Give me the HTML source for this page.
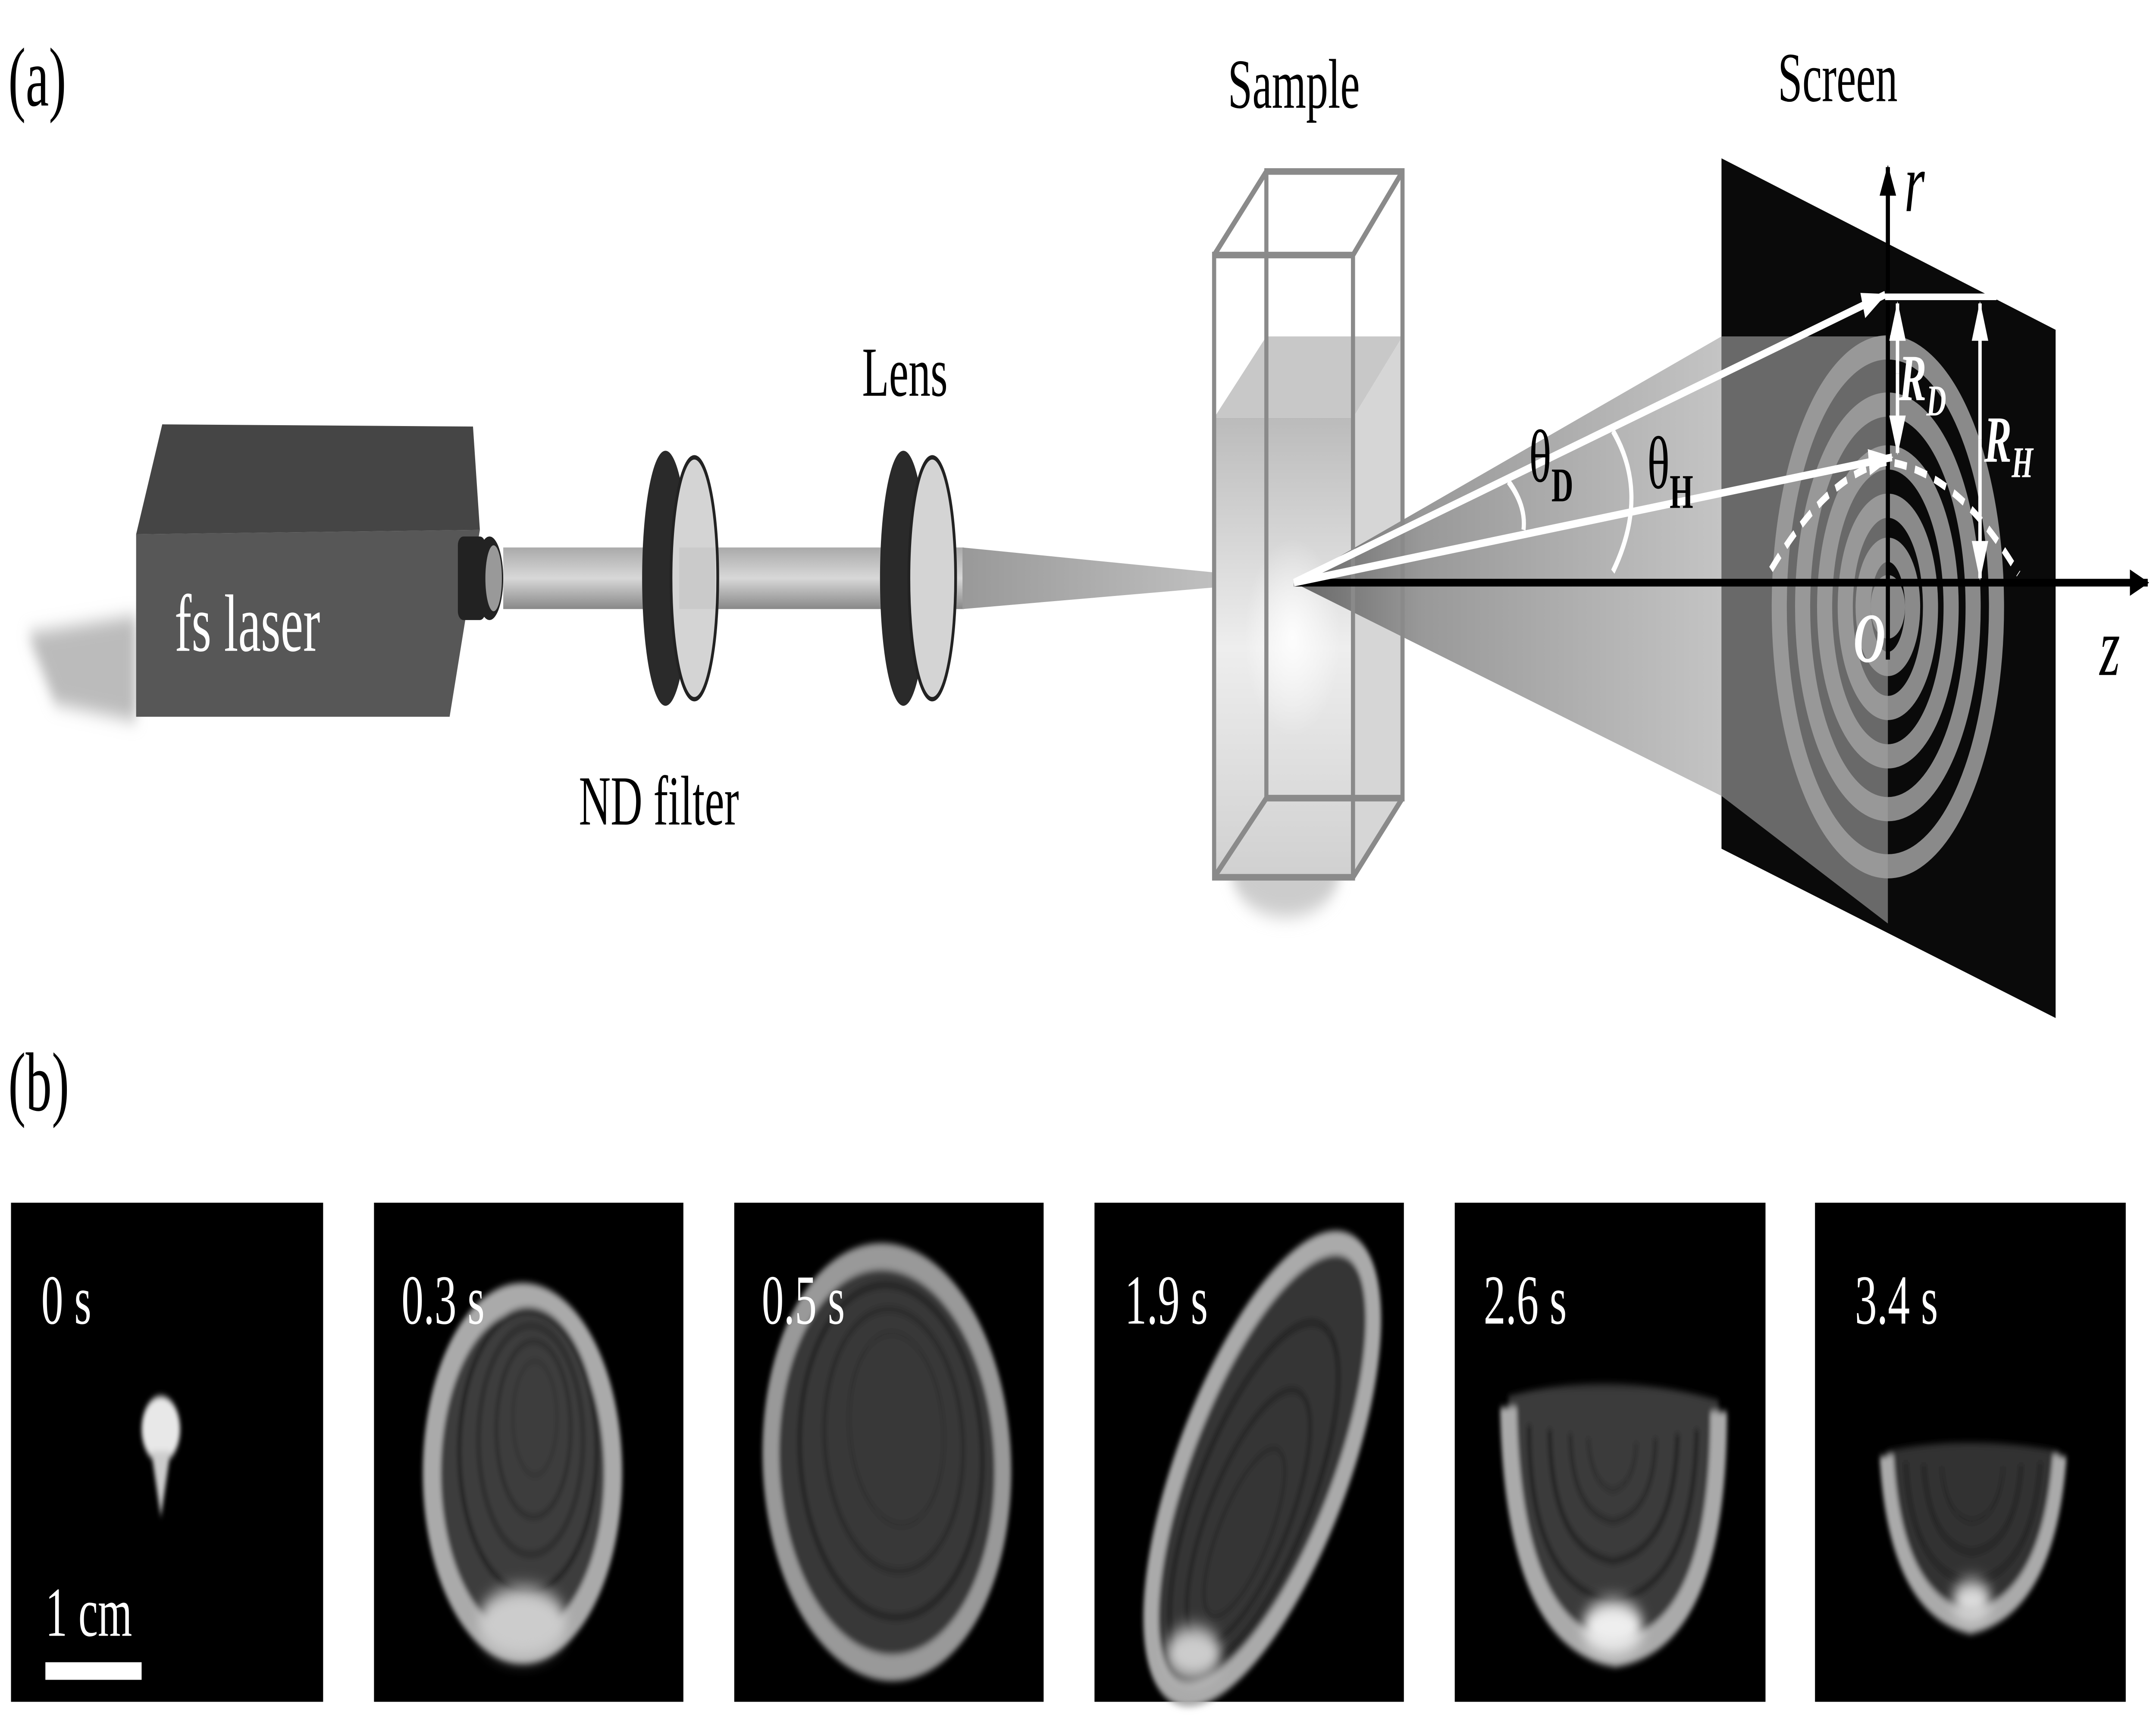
<!DOCTYPE html>
<html><head><meta charset="utf-8"><style>
html,body{margin:0;padding:0;background:#fff;width:100vw;height:100vh;overflow:hidden;}
svg{display:block;position:absolute;left:0;top:0;width:100vw;height:100vh;}
text{font-family:"Liberation Serif",serif;}
</style></head><body>
<svg viewBox="0 0 1568 780" preserveAspectRatio="none" xmlns="http://www.w3.org/2000/svg">
<defs>
<linearGradient id="beam" x1="0" x2="0" y1="0" y2="1">
<stop offset="0" stop-color="#aaa"/><stop offset="0.5" stop-color="#d8d8d8"/><stop offset="1" stop-color="#888"/></linearGradient>
<linearGradient id="beam2" x1="0" x2="1"><stop offset="0" stop-color="#999"/><stop offset="1" stop-color="#ccc"/></linearGradient>
<linearGradient id="cone" x1="0" x2="1"><stop offset="0" stop-color="#666"/><stop offset="0.3" stop-color="#999"/><stop offset="1" stop-color="#c4c4c4"/></linearGradient>
<linearGradient id="liq" x1="0" x2="0" y1="0" y2="1"><stop offset="0" stop-color="#bbb"/><stop offset="0.5" stop-color="#eee"/><stop offset="1" stop-color="#d0d0d0"/></linearGradient>
<linearGradient id="fadeTop" x1="0" x2="0" y1="0" y2="1"><stop offset="0" stop-color="#000"/><stop offset="0.25" stop-color="#000" stop-opacity="0"/></linearGradient>
<radialGradient id="glow"><stop offset="0" stop-color="#fff"/><stop offset="1" stop-color="#fff" stop-opacity="0"/></radialGradient>
<filter id="bl" x="-30%" y="-30%" width="160%" height="160%"><feGaussianBlur stdDeviation="4"/></filter>
<filter id="bl2" x="-20%" y="-20%" width="140%" height="140%"><feGaussianBlur stdDeviation="1.5"/></filter>
<filter id="bl3" x="-50%" y="-50%" width="200%" height="200%"><feGaussianBlur stdDeviation="4"/></filter>
<marker id="ah" markerWidth="14" markerHeight="12" refX="13" refY="6" orient="auto" markerUnits="userSpaceOnUse"><path d="M0,0 L14,6 L0,12 z" fill="#000"/></marker>
<marker id="wh" markerWidth="18" markerHeight="12" refX="17" refY="6" orient="auto" markerUnits="userSpaceOnUse"><path d="M0,0 L18,6 L0,12 z" fill="#fff"/></marker>
<clipPath id="scr"><polygon points="1252,72 1495,150 1495,463 1252,386"/></clipPath>
</defs>
<rect width="1568" height="780" fill="#fff"/>
<text x="6" y="48" font-size="38">(a)</text>
<text x="6" y="505" font-size="38">(b)</text>

<polygon points="20,288 99,280 99,328 40,320" fill="#bbb" filter="url(#bl)"/>
<rect x="366" y="249" width="335" height="28" fill="url(#beam)"/>
<polygon points="700,249 942,264 700,277" fill="url(#beam2)"/>
<polygon points="118,193 344,194 349,241 99,243" fill="#454545"/>
<polygon points="99,243 349,241 327,326 99,326" fill="#575757"/>
<rect x="333" y="244" width="20" height="38" rx="4" fill="#222"/>
<ellipse cx="356" cy="263" rx="10" ry="19" fill="#222"/>
<ellipse cx="359" cy="263" rx="6" ry="15" fill="#999"/>
<text x="127" y="296" font-size="37" fill="#fff">fs laser</text>

<ellipse cx="484" cy="263" rx="17" ry="58" fill="#2a2a2a"/>
<ellipse cx="505" cy="263" rx="17" ry="55" fill="#d4d4d4" stroke="#222" stroke-width="2"/>
<rect x="494" y="249" width="26" height="28" fill="#bbb" opacity="0.4"/>
<text x="421" y="375" font-size="32">ND filter</text>
<ellipse cx="657" cy="263" rx="17" ry="58" fill="#2a2a2a"/>
<ellipse cx="678" cy="263" rx="17" ry="55" fill="#d4d4d4" stroke="#222" stroke-width="2"/>
<text x="627" y="180" font-size="32">Lens</text>

<ellipse cx="935" cy="395" rx="40" ry="22" fill="#ccc" filter="url(#bl)"/>
<polygon points="883,190 921,153 1020,153 984,190" fill="#c8c8c8"/>
<rect x="883" y="190" width="101" height="209" fill="url(#liq)"/>
<polygon points="984,190 1020,153 1020,363 984,399" fill="#d6d6d6"/>
<ellipse cx="940" cy="290" rx="35" ry="45" fill="url(#glow)" opacity="0.9"/>
<polygon points="941,265 1252,153 1252,362" fill="url(#cone)"/>
<polygon points="1252,72 1495,150 1495,463 1252,386" fill="#0a0a0a"/>
<g clip-path="url(#scr)">
<polygon points="1252,153 1373,153 1373,420 1252,362" fill="#555"/>
<g fill="none" stroke="#8a8a8a" stroke-width="11">
<ellipse cx="1373" cy="276" rx="79" ry="118"/>
<ellipse cx="1373" cy="276" rx="62" ry="92"/>
<ellipse cx="1373" cy="276" rx="46" ry="68"/>
<ellipse cx="1373" cy="276" rx="31" ry="46"/>
<ellipse cx="1373" cy="276" rx="18" ry="26"/>
<ellipse cx="1373" cy="276" rx="7" ry="9"/>
</g>
<polygon points="1252,153 1373,153 1373,420 1252,362" fill="#fff" opacity="0.12"/>
</g>
<text x="1293" y="46" font-size="32">Screen</text>
<g fill="none" stroke="#8a8a8a" stroke-width="3">
<rect x="883" y="116" width="101" height="283"/>
<rect x="921" y="78" width="99" height="285"/>
<line x1="883" y1="116" x2="921" y2="78"/><line x1="984" y1="116" x2="1020" y2="78"/>
<line x1="883" y1="399" x2="921" y2="363"/><line x1="984" y1="399" x2="1020" y2="363"/>
</g>
<text x="893" y="49" font-size="32">Sample</text>

<line x1="941" y1="265" x2="1562" y2="265" stroke="#000" stroke-width="3.5" marker-end="url(#ah)"/>
<line x1="1373" y1="300" x2="1373" y2="76" stroke="#000" stroke-width="3" marker-end="url(#ah)"/>
<text x="1385" y="96" font-size="38" font-style="italic">r</text>
<text x="1527" y="307" font-size="38" font-style="italic">z</text>
<text x="1348" y="301" font-size="32" font-style="italic" font-weight="bold" fill="#fff">O</text>
<line x1="941" y1="265" x2="1371" y2="134" stroke="#fff" stroke-width="3.5" marker-end="url(#wh)"/>
<line x1="941" y1="265" x2="1376" y2="208" stroke="#fff" stroke-width="3.5" marker-end="url(#wh)"/>
<line x1="1371" y1="135" x2="1452" y2="135" stroke="#fff" stroke-width="3"/>
<line x1="1380" y1="170" x2="1380" y2="138" stroke="#fff" stroke-width="2.5" marker-end="url(#wh)"/>
<line x1="1380" y1="170" x2="1380" y2="206" stroke="#fff" stroke-width="2.5" marker-end="url(#wh)"/>
<line x1="1440" y1="200" x2="1440" y2="138" stroke="#fff" stroke-width="2.5" marker-end="url(#wh)"/>
<line x1="1440" y1="200" x2="1440" y2="263" stroke="#fff" stroke-width="2.5" marker-end="url(#wh)"/>
<path d="M1288,259 Q1330,215 1373,210 Q1425,215 1468,261" fill="none" stroke="#fff" stroke-width="3.5" stroke-dasharray="9,6"/>
<path d="M1097,219 Q1110,230 1108,241" fill="none" stroke="#fff" stroke-width="3"/>
<path d="M1173,196 Q1200,225 1173,260" fill="none" stroke="#fff" stroke-width="3"/>
<text x="1112" y="219" font-size="34">θ<tspan font-size="22" font-weight="bold" dy="9">D</tspan></text>
<text x="1198" y="222" font-size="34">θ<tspan font-size="22" font-weight="bold" dy="9">H</tspan></text>
<text x="1381" y="182" font-size="30" font-style="italic" font-weight="bold" fill="#fff">R<tspan font-size="20" dy="7">D</tspan></text>
<text x="1443" y="210" font-size="30" font-style="italic" font-weight="bold" fill="#fff">R<tspan font-size="20" dy="7">H</tspan></text>

<g fill="#000">
<rect x="8" y="547" width="227" height="227"/>
<rect x="272" y="547" width="225" height="227"/>
<rect x="534" y="547" width="225" height="227"/>
<rect x="796" y="547" width="225" height="227"/>
<rect x="1058" y="547" width="226" height="227"/>
<rect x="1320" y="547" width="226" height="227"/>
</g>
<g filter="url(#bl2)">
<ellipse cx="117" cy="650" rx="14" ry="15" fill="#e8e8e8"/>
<polygon points="110,660 124,660 117,690" fill="#ccc"/>
</g>
<rect x="33" y="756" width="70" height="8" fill="#fff"/>
<text x="33" y="744" font-size="32" fill="#fff">1 cm</text>
<g filter="url(#bl2)" fill="none">
<ellipse cx="380" cy="670" rx="66" ry="80" fill="#3c3c3c" stroke="#aaa" stroke-width="13"/>
<ellipse cx="384" cy="660" rx="50" ry="64" stroke="#222" stroke-width="3"/>
<ellipse cx="386" cy="655" rx="38" ry="52" stroke="#2a2a2a" stroke-width="3"/>
<ellipse cx="388" cy="650" rx="27" ry="40" stroke="#2a2a2a" stroke-width="2.5"/>
<ellipse cx="389" cy="645" rx="16" ry="26" stroke="#333" stroke-width="2"/>
</g>
<ellipse cx="380" cy="738" rx="32" ry="16" fill="#ccc" filter="url(#bl3)"/>
<g filter="url(#bl2)" fill="none">
<ellipse cx="645" cy="665" rx="84" ry="94" fill="#383838" stroke="#999" stroke-width="12" transform="rotate(-12 645 665)"/>
<ellipse cx="648" cy="660" rx="66" ry="76" stroke="#222" stroke-width="3" transform="rotate(-12 648 660)"/>
<ellipse cx="650" cy="655" rx="50" ry="60" stroke="#2a2a2a" stroke-width="3" transform="rotate(-12 650 655)"/>
<ellipse cx="652" cy="650" rx="34" ry="44" stroke="#2e2e2e" stroke-width="2" transform="rotate(-12 652 650)"/>
</g>
<g filter="url(#bl2)" fill="none">
<ellipse cx="918" cy="668" rx="120" ry="52" fill="#353535" stroke="#aaa" stroke-width="11" transform="rotate(-55 918 668)"/>
<ellipse cx="912" cy="680" rx="92" ry="38" stroke="#222" stroke-width="3" transform="rotate(-55 912 680)"/>
<ellipse cx="908" cy="690" rx="68" ry="27" stroke="#252525" stroke-width="3" transform="rotate(-55 908 690)"/>
<ellipse cx="905" cy="697" rx="45" ry="17" stroke="#2a2a2a" stroke-width="2.5" transform="rotate(-55 905 697)"/>
</g>
<ellipse cx="868" cy="752" rx="20" ry="12" fill="#ccc" filter="url(#bl3)"/>
<!-- panel 5 -->
<g filter="url(#bl2)" fill="none">
<path d="M1097,635 Q1170,622 1250,637 Q1250,745 1175,752 Q1100,745 1097,635 z" fill="#3a3a3a"/>
<path d="M1097,640 Q1100,745 1175,752 Q1250,745 1250,642" stroke="#aaa" stroke-width="12"/>
<path d="M1112,648 Q1112,722 1173,728 Q1232,722 1234,650" stroke="#222" stroke-width="3"/>
<path d="M1127,650 Q1128,705 1173,710 Q1218,705 1220,652" stroke="#222" stroke-width="3"/>
<path d="M1142,652 Q1143,688 1173,692 Q1203,688 1204,654" stroke="#262626" stroke-width="2.5"/>
<path d="M1155,654 Q1157,675 1173,678 Q1189,675 1190,656" stroke="#2a2a2a" stroke-width="2"/>
</g>
<rect x="1085" y="618" width="180" height="60" fill="url(#fadeTop)" filter="url(#bl2)"/>
<ellipse cx="1173" cy="740" rx="22" ry="12" fill="#eee" filter="url(#bl3)"/>
<!-- panel 6 -->
<g filter="url(#bl2)" fill="none">
<path d="M1372,660 Q1430,652 1498,660 Q1490,730 1433,738 Q1378,730 1372,660 z" fill="#333"/>
<path d="M1372,662 Q1378,730 1433,738 Q1490,730 1498,662" stroke="#aaa" stroke-width="10"/>
<path d="M1386,665 Q1390,715 1434,720 Q1478,715 1484,665" stroke="#222" stroke-width="2.5"/>
<path d="M1399,666 Q1403,703 1434,706 Q1466,703 1470,666" stroke="#222" stroke-width="2.5"/>
<path d="M1412,667 Q1415,690 1434,692 Q1454,690 1457,667" stroke="#262626" stroke-width="2"/>
</g>
<rect x="1360" y="645" width="150" height="45" fill="url(#fadeTop)" filter="url(#bl2)"/>
<ellipse cx="1434" cy="728" rx="14" ry="9" fill="#ddd" filter="url(#bl3)"/>
<g font-size="32" fill="#fff">
<text x="30" y="602">0 s</text>
<text x="292" y="602">0.3 s</text>
<text x="554" y="602">0.5 s</text>
<text x="818" y="602">1.9 s</text>
<text x="1079" y="602">2.6 s</text>
<text x="1349" y="602">3.4 s</text>
</g>
</svg>
</body></html>
